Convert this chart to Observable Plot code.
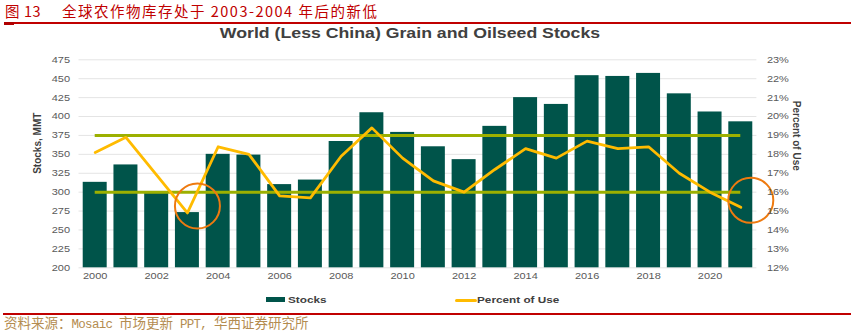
<!DOCTYPE html>
<html>
<head>
<meta charset="utf-8">
<script src="https://cdn.jsdelivr.net/npm/d3@7"></script>
<script src="https://cdn.jsdelivr.net/npm/@observablehq/plot@0.6"></script>
<style>
  html, body { margin: 0; padding: 0; background: #fff; }
  body { width: 851px; height: 332px; position: relative; overflow: hidden; }
  .abs { position: absolute; white-space: pre; }
  .cjk { font-family: "Noto Sans CJK SC", sans-serif; }
  .mono { font-family: "Liberation Mono", monospace; font-size: 12.5px; letter-spacing: -0.7px; }
  .leg { font-family: "Liberation Sans", Arial, sans-serif; font-weight: bold; font-size: 9.8px; line-height: 9.8px; color: #404040; transform: scaleX(1.2); transform-origin: left center; }
</style>
</head>
<body>
<div class="abs cjk" style="left:5px; top:0; font-size:14.5px; line-height:normal; letter-spacing:0.6px; color:#c00000;">图 13</div>
<div class="abs cjk" style="left:62px; top:0; font-size:14.5px; line-height:normal; letter-spacing:1.5px; color:#c00000;">全球农作物库存处于 2003-2004 年后的新低</div>
<div class="abs" style="left:4px; top:22px; width:847px; height:2px; background:#c00000;"></div>
<div class="abs" style="left:4px; top:22px; width:10px; height:3px; background:#b00000;"></div>
<div class="abs" style="left:410px; top:24.6px; font-family:'Liberation Sans', Arial, sans-serif; font-weight:bold; font-size:15px; line-height:15px; color:#404040; transform: translateX(-50%) scaleX(1.18);">World (Less China) Grain and Oilseed Stocks</div>
<div id="chart" class="abs" style="left:0; top:44px;"></div>
<div class="abs" style="left:266px; top:297.3px; width:19px; height:4.7px; background:#00544a;"></div>
<div class="abs leg" style="left:288px; top:295px;">Stocks</div>
<div class="abs" style="left:455px; top:298.5px; width:22px; height:3px; border-radius:1.5px; background:#ffbb00;"></div>
<div class="abs leg" style="left:477px; top:295px;">Percent of Use</div>
<div class="abs" style="left:3px; top:313px; width:848px; height:2px; background:#c00000;"></div>
<div class="abs cjk" style="left:4px; top:316px; font-size:13.5px; line-height:13.5px; color:#b48c50;"><span>资料来源：</span><span class="mono">Mosaic </span><span>市场更新</span><span class="mono"> PPT, </span><span>华西证券研究所</span></div>
<script>
const years = [2000, 2001, 2002, 2003, 2004, 2005, 2006, 2007, 2008, 2009, 2010,
               2011, 2012, 2013, 2014, 2015, 2016, 2017, 2018, 2019, 2020, 2021];
const stocks = [313, 336, 299, 273, 350, 349, 310, 316, 367, 405, 379,
                360, 343, 387, 425, 416, 454, 453, 457, 430, 406, 393];
const percentOfUse = [18.1, 18.9, 16.9, 14.9, 18.4, 18.0, 15.8, 15.7, 17.9, 19.4, 17.8,
                      16.6, 16.0, 17.2, 18.3, 17.8, 18.7, 18.3, 18.4, 17.0, 16.0, 15.2];
const leftTicks = [200, 225, 250, 275, 300, 325, 350, 375, 400, 425, 450, 475];
const rightTickLabels = ["12%", "13%", "14%", "15%", "16%", "17%", "18%", "19%", "20%", "21%", "22%", "23%"];
const xTicks = [2000, 2002, 2004, 2006, 2008, 2010, 2012, 2014, 2016, 2018, 2020];
const referenceLevels = [375, 300]; // 19% and 16% of use
const highlightYears = [2003, 2021];

// right axis: 12% ↔ 200 MMT, 1 point of percent ↔ 25 MMT
const pctToStock = p => 200 + (p - 12) * 25;

const data = years.map((year, i) => ({year, stocks: stocks[i], pct: percentOfUse[i]}));
const highlights = data.filter(d => highlightYears.includes(d.year));
const half = 0.39;

const plot = Plot.plot({
  width: 851,
  height: 244,
  marginLeft: 78.5,
  marginRight: 94.6,
  marginTop: 15.3,
  marginBottom: 20.7,
  x: {type: "linear", domain: [1999.473, 2021.524]},
  y: {domain: [200, 475]},
  style: {fontFamily: "'Liberation Sans', Arial, sans-serif", background: "transparent", color: "#595959", overflow: "visible"},
  marks: [
    Plot.gridY(leftTicks, {stroke: "#e4e4e4", strokeOpacity: 1}),
    Plot.rect(data, {x1: d => d.year - half, x2: d => d.year + half, y1: 200, y2: "stocks", fill: "#00544a"}),
    Plot.ruleY(referenceLevels, {x1: years[0], x2: years[years.length - 1], stroke: "#9cb000", strokeWidth: 3}),
    Plot.line(data, {x: "year", y: d => pctToStock(d.pct), stroke: "#ffbb00", strokeWidth: 2.8, strokeLinejoin: "round"}),
    Plot.dot(highlights, {x: "year", y: d => pctToStock(d.pct), r: 22.5, stroke: "#ee7a10", strokeWidth: 2, fill: "none", dx: 10, dy: -7}),
    Plot.axisX({ticks: xTicks, tickFormat: d => String(d), tickSize: 0, tickPadding: 5, fontSize: 9, label: null}),
    Plot.axisY({ticks: leftTicks, tickSize: 0, tickPadding: 9, fontSize: 9, label: null}),
    Plot.axisY({anchor: "right", ticks: leftTicks, tickFormat: (d, i) => rightTickLabels[leftTicks.indexOf(d)], tickSize: 0, tickPadding: 10, fontSize: 9, label: null}),
    Plot.text(["Stocks, MMT"], {text: d => d, frameAnchor: "left", dx: -41.2, dy: 10, rotate: -90, fontSize: 10, fontWeight: "bold", fill: "#404040"}),
    Plot.text(["Percent of Use"], {text: d => d, frameAnchor: "right", dx: 39.6, dy: 7, rotate: 90, fontSize: 10, fontWeight: "bold", fill: "#404040"})
  ]
});
plot.querySelectorAll('g[aria-label$="tick label"] text').forEach(t => {
  const tr = t.getAttribute("transform") || "";
  t.setAttribute("transform", tr + " scale(1.22,1)");
});
document.getElementById("chart").appendChild(plot);
</script>
</body>
</html>
